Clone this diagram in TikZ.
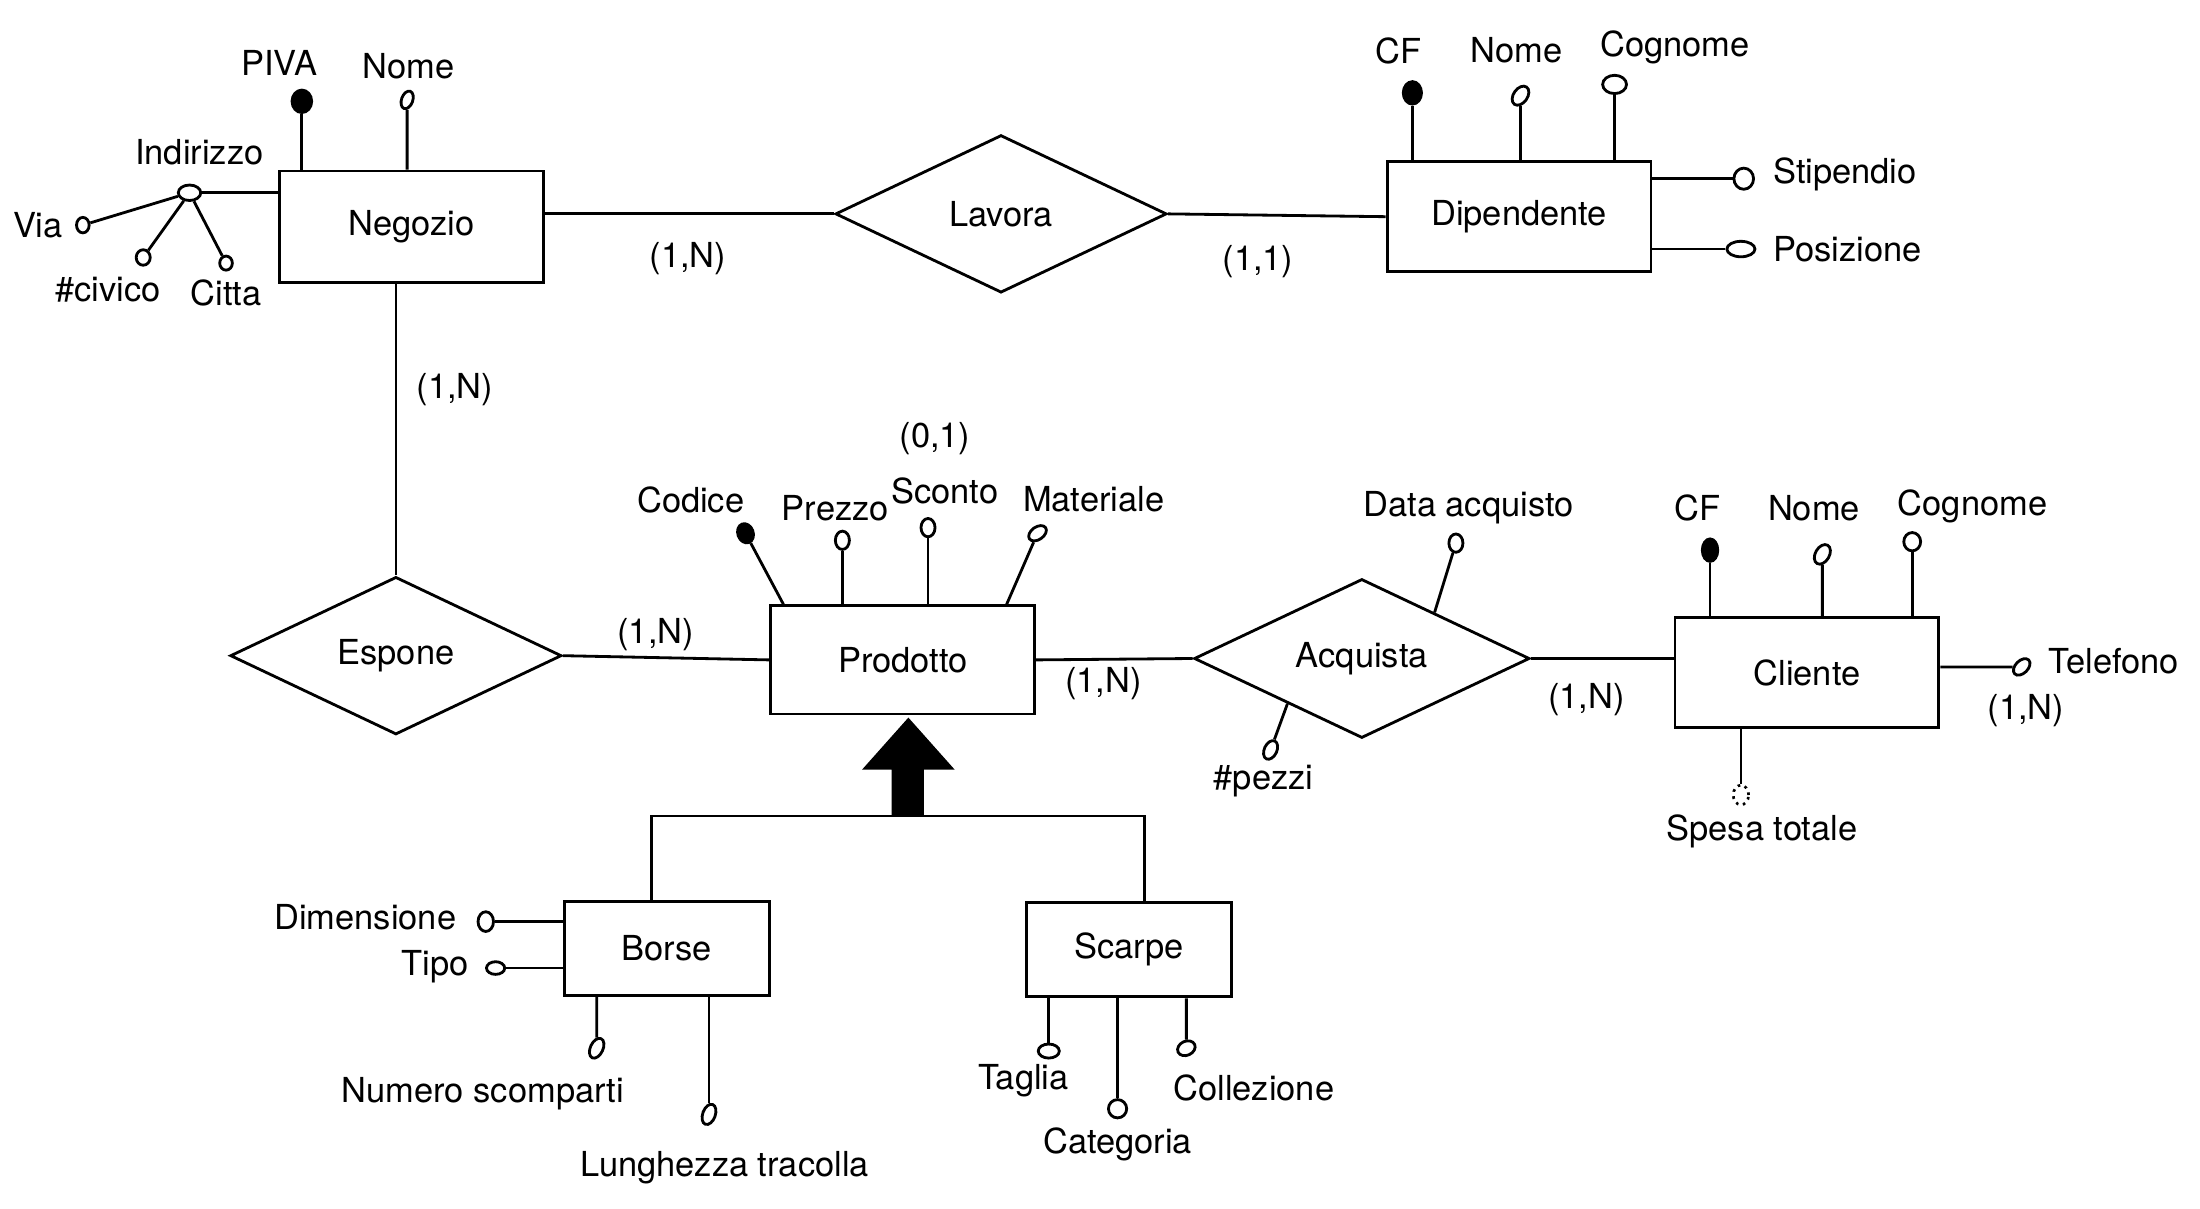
\documentclass[tikz,border=0pt]{standalone}
\usepackage{fontspec}
\setmainfont{TeX Gyre Heros}
\usetikzlibrary{shapes.geometric,calc}
\newcommand\pxu{0.01404cm}
\newcommand\pyu{0.014074cm}
\begin{document}
\begin{tikzpicture}[x=\pxu, y=-\pyu, line width=0.8pt,
  every node/.style={font=\fontsize{9.8}{11.5}\selectfont},
  entity/.style 2 args={draw, rectangle, inner sep=0, minimum width=#1*\pxu, minimum height=#2*\pyu},
  rel/.style 2 args={draw, diamond, inner sep=0, aspect=2, minimum width=#1*\pxu, minimum height=#2*\pyu},
  attr/.style 2 args={draw, ellipse, fill=white, inner sep=0, line width=0.8pt, minimum width=#1*\pxu, minimum height=#2*\pyu},
  keyattr/.style 2 args={draw, ellipse, fill=black, inner sep=0, minimum width=#1*\pxu, minimum height=#2*\pyu},
  derattr/.style 2 args={draw, ellipse, line width=0.75pt, dash pattern=on 0.75pt off 1.3pt, inner sep=0, minimum width=#1*\pxu, minimum height=#2*\pyu},
  lbl/.style={inner sep=0}]
\useasboundingbox (0,0) rectangle (1567,859.0);

% ---------- Entities ----------
\node[entity={188}{79}] (neg) at (293,161) {Negozio};
\node[entity={188}{78}] (dip) at (1082,154) {Dipendente};
\node[entity={188}{77}] (pro) at (643,469) {Prodotto};
\node[entity={188}{78}] (cli) at (1287,478) {Cliente};
\node[entity={146}{67}] (bor) at (475,674) {Borse};
\node[entity={146}{67}] (sca) at (804,675) {Scarpe};

% ---------- Relationships ----------
\node[rel={236}{112}] (lav) at (713,152) {Lavora};
\node[rel={236}{112}] (esp) at (282,466) {Espone};
\node[rel={239}{113}] (acq) at (970,468) {Acquista};

% ---------- Relationship connectors ----------
\draw (neg.east |- lav.west) -- (lav.west);
\draw (lav.east) -- (dip.west);
\draw (esp.north |- neg.south) -- (esp.north);
\draw (esp.east) -- (pro.west);
\draw (pro.east) -- (acq.west);
\draw (acq.east) -- (acq.east -| cli.west);

% ---------- Cardinalities ----------
\node[lbl] (c1) at (490,184) {(1,N)};
\node[lbl] (c2) at (896,186) {(1,1)};
\node[lbl] (c3) at (324,277) {(1,N)};
\node[lbl] (c4) at (467,451) {(1,N)};
\node[lbl] (c5) at (786,486) {(1,N)};
\node[lbl] (c6) at (1130,497) {(1,N)};
\node[lbl] (c7) at (1443,505) {(1,N)};
\node[lbl] (c8) at (666,312) {(0,1)};

% ---------- Negozio attributes ----------
\node[keyattr={14}{16}] (piva) at (215,72) {};
\node[lbl] (tpiva) at (199,45) {PIVA};
\draw (piva) -- (piva |- neg.north);
\node[attr={8}{13}, rotate=-20] (nnome) at (290,71) {};
\node[lbl] (tnnome) at (291,47) {Nome};
\draw (nnome) -- (nnome |- neg.north);
\node[attr={16}{11}] (ind) at (135,137) {};
\node[lbl] (tind) at (142,108) {Indirizzo};
\draw (ind.east) -- (ind.east -| neg.west);
\node[attr={9}{11}] (via) at (59,160) {};
\node[lbl] (tvia) at (27,160) {Via};
\draw (ind) -- (via);
\node[attr={10}{11}] (civ) at (102,183) {};
\node[lbl] (tciv) at (77,206) {\#civico};
\draw (ind) -- (civ);
\node[attr={9}{10}] (cit) at (161,187) {};
\node[lbl] (tcit) at (161,208) {Citta};
\draw (ind) -- (cit);

% ---------- Dipendente attributes ----------
\node[keyattr={13}{16}] (dcf) at (1006,66) {};
\node[lbl] (tdcf) at (996,36) {CF};
\draw (dcf) -- (dcf |- dip.north);
\node[attr={10}{15}, rotate=-35] (dnome) at (1083,68) {};
\node[lbl] (tdnome) at (1080,36) {Nome};
\draw (dnome) -- (dnome |- dip.north);
\node[attr={17}{13}] (dcog) at (1150,60) {};
\node[lbl] (tdcog) at (1193,34) {Cognome};
\draw (dcog) -- (dcog |- dip.north);
\node[attr={14}{15}] (stip) at (1242,127) {};
\node[lbl, anchor=west] (tstip) at (1262,124) {Stipendio};
\draw (stip) -- (stip -| dip.east);
\node[attr={20}{11}] (pos) at (1240,177) {};
\node[lbl, anchor=west] (tpos) at (1262,177) {Posizione};
\draw (pos) -- (pos -| dip.east);

% ---------- Prodotto attributes ----------
\node[keyattr={11}{14}, rotate=20] (cod) at (531,379) {};
\node[lbl] (tcod) at (492,355) {Codice};
\draw (cod) -- ($(pro.north west)+(10,0)$);
\node[attr={10}{13}] (prez) at (600,384) {};
\node[lbl] (tprez) at (595,361) {Prezzo};
\draw (prez) -- (prez |- pro.north);
\node[attr={10}{13}] (scon) at (661,375) {};
\node[lbl] (tscon) at (673,349) {Sconto};
\draw (scon) -- (scon |- pro.north);
\node[attr={14}{9}, rotate=35] (mat) at (739,379) {};
\node[lbl] (tmat) at (779,355) {Materiale};
\draw (mat) -- ($(pro.north east)+(-21,0)$);

% ---------- Acquista attributes ----------
\node[attr={10}{13}] (dacq) at (1037,386) {};
\node[lbl] (tdacq) at (1046,361) {Data acquisto};
\draw (dacq) -- ($(acq.north)!0.43!(acq.east)$);
\node[attr={9}{14}, rotate=-25] (pez) at (905,533) {};
\node[lbl] (tpez) at (900,555) {\#pezzi};
\draw (pez) -- ($(acq.west)!0.56!(acq.south)$);

% ---------- Cliente attributes ----------
\node[keyattr={11}{16}] (ccf) at (1218,391) {};
\node[lbl] (tccf) at (1209,361) {CF};
\draw (ccf) -- (ccf |- cli.north);
\node[attr={10}{15}, rotate=-30] (cnome) at (1298,394) {};
\node[lbl] (tcnome) at (1292,361) {Nome};
\draw (cnome) -- (cnome |- cli.north);
\node[attr={12}{13}] (ccog) at (1362,385) {};
\node[lbl] (tccog) at (1405,360) {Cognome};
\draw (ccog) -- (ccog |- cli.north);
\node[attr={9}{14}, rotate=-45] (tel) at (1440,474) {};
\node[lbl, anchor=west] (ttel) at (1458,470) {Telefono};
\draw (tel) -- (tel -| cli.east);
\node[derattr={11}{14}] (spesa) at (1240,565) {};
\node[lbl] (tspesa) at (1255,591) {Spesa totale};
\draw (spesa) -- (spesa |- cli.south);

% ---------- Generalization ----------
\fill (647,510) -- (680,547) -- (658,547) -- (658,580) -- (635,580) -- (635,547) -- (614,547) -- cycle;
\coordinate (isaL) at (464,580);
\coordinate (isaR) at (815,580);
\draw (isaL |- bor.north) -- (isaL) -- (isaR) -- (isaR |- sca.north);

% ---------- Borse attributes ----------
\node[attr={11}{14}] (dim) at (346,655) {};
\node[lbl, anchor=east] (tdim) at (326,652) {Dimensione};
\draw (dim) -- (dim -| bor.west);
\node[attr={13}{9}] (tipo) at (353,688) {};
\node[lbl, anchor=east] (ttipo) at (335,687) {Tipo};
\draw (tipo) -- (tipo -| bor.west);
\node[attr={9}{15}, rotate=-25] (num) at (425,745) {};
\node[lbl] (tnum) at (344,777) {Numero scomparti};
\draw (num) -- (num |- bor.south);
\node[attr={9}{15}, rotate=-20] (lung) at (505,792) {};
\node[lbl] (tlung) at (516,830) {Lunghezza tracolla};
\draw (lung) -- (lung |- bor.south);

% ---------- Scarpe attributes ----------
\node[attr={15}{10}] (tag) at (747,747) {};
\node[lbl] (ttag) at (729,768) {Taglia};
\draw (tag) -- (tag |- sca.south);
\node[attr={13}{13}] (cat) at (796,788) {};
\node[lbl] (tcat) at (796,813) {Categoria};
\draw (cat) -- (cat |- sca.south);
\node[attr={13}{10}, rotate=25] (col) at (845,745) {};
\node[lbl] (tcol) at (893,773) {Collezione};
\draw (col) -- (col |- sca.south);
\end{tikzpicture}
\end{document}
